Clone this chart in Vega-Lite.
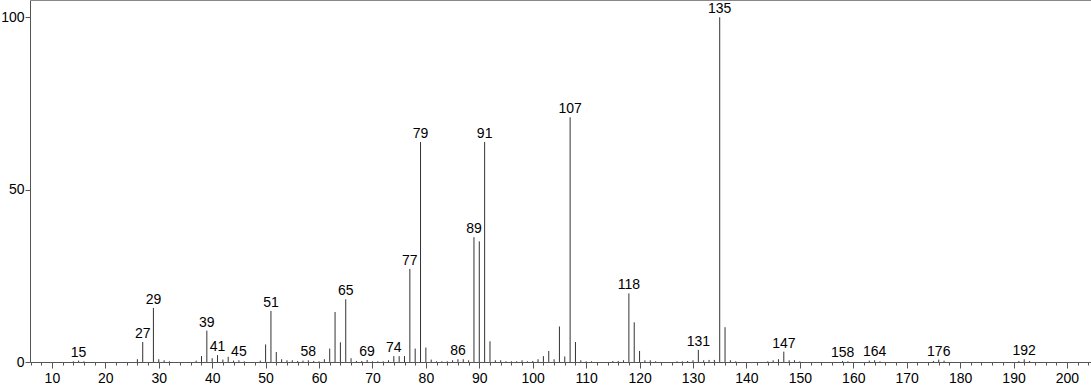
{
  "$schema": "https://vega.github.io/schema/vega-lite/v6.json",
  "width": 1061,
  "height": 362,
  "autosize": {"type": "none"},
  "padding": {"left": 30, "top": 0, "right": 0, "bottom": 25},
  "config": {"view": {"stroke": null}, "font": "Liberation Sans"},
  "data": {"values": [
    {"mz":14,"i":0.2,"lab":0},{"mz":15,"i":0.4,"lab":1},{"mz":16,"i":0.2,"lab":0},
    {"mz":26,"i":0.8,"lab":0},{"mz":27,"i":5.8,"lab":1},{"mz":29,"i":15.7,"lab":1},
    {"mz":30,"i":0.8,"lab":0},{"mz":31,"i":0.5,"lab":0},{"mz":32,"i":0.2,"lab":0},
    {"mz":37,"i":0.4,"lab":0},{"mz":38,"i":1.7,"lab":0},{"mz":39,"i":9.1,"lab":1},
    {"mz":40,"i":1.1,"lab":0},{"mz":41,"i":2.0,"lab":1},{"mz":42,"i":0.7,"lab":0},
    {"mz":43,"i":1.5,"lab":0},{"mz":44,"i":0.4,"lab":0},{"mz":45,"i":0.5,"lab":1},
    {"mz":46,"i":0.2,"lab":0},{"mz":49,"i":0.4,"lab":0},{"mz":50,"i":5.1,"lab":0},
    {"mz":51,"i":14.8,"lab":1},{"mz":52,"i":2.9,"lab":0},{"mz":53,"i":0.8,"lab":0},
    {"mz":54,"i":0.5,"lab":0},{"mz":55,"i":0.5,"lab":0},{"mz":56,"i":0.3,"lab":0},
    {"mz":57,"i":0.4,"lab":0},{"mz":58,"i":0.5,"lab":1},{"mz":59,"i":0.3,"lab":0},
    {"mz":60,"i":0.2,"lab":0},{"mz":61,"i":0.8,"lab":0},{"mz":62,"i":3.9,"lab":0},
    {"mz":63,"i":14.5,"lab":0},{"mz":64,"i":5.7,"lab":0},{"mz":65,"i":18.2,"lab":1},
    {"mz":66,"i":1.1,"lab":0},{"mz":67,"i":0.3,"lab":0},{"mz":68,"i":0.3,"lab":0},
    {"mz":69,"i":0.6,"lab":1},{"mz":70,"i":0.2,"lab":0},{"mz":71,"i":0.2,"lab":0},
    {"mz":72,"i":0.2,"lab":0},{"mz":73,"i":0.5,"lab":0},{"mz":74,"i":1.7,"lab":1},
    {"mz":75,"i":1.7,"lab":0},{"mz":76,"i":1.7,"lab":0},{"mz":77,"i":27,"lab":1},
    {"mz":78,"i":3.9,"lab":0},{"mz":79,"i":63.8,"lab":1},{"mz":80,"i":4.2,"lab":0},
    {"mz":81,"i":0.7,"lab":0},{"mz":82,"i":0.2,"lab":0},{"mz":83,"i":0.2,"lab":0},
    {"mz":84,"i":0.2,"lab":0},{"mz":85,"i":0.5,"lab":0},{"mz":86,"i":0.8,"lab":1},
    {"mz":87,"i":0.8,"lab":0},{"mz":88,"i":0.5,"lab":0},{"mz":89,"i":36.2,"lab":1},
    {"mz":90,"i":35,"lab":0},{"mz":91,"i":63.8,"lab":1},{"mz":92,"i":6.0,"lab":0},
    {"mz":93,"i":0.5,"lab":0},{"mz":94,"i":0.5,"lab":0},{"mz":95,"i":0.2,"lab":0},
    {"mz":96,"i":0.2,"lab":0},{"mz":97,"i":0.2,"lab":0},{"mz":98,"i":0.5,"lab":0},
    {"mz":99,"i":0.2,"lab":0},{"mz":100,"i":0.3,"lab":0},{"mz":101,"i":0.8,"lab":0},
    {"mz":102,"i":1.7,"lab":0},{"mz":103,"i":3.2,"lab":0},{"mz":104,"i":0.8,"lab":0},
    {"mz":105,"i":10.3,"lab":0},{"mz":106,"i":1.6,"lab":0},{"mz":107,"i":71,"lab":1},
    {"mz":108,"i":5.8,"lab":0},{"mz":109,"i":0.5,"lab":0},{"mz":110,"i":0.2,"lab":0},
    {"mz":111,"i":0.2,"lab":0},{"mz":115,"i":0.3,"lab":0},{"mz":116,"i":0.3,"lab":0},
    {"mz":117,"i":0.5,"lab":0},{"mz":118,"i":19.9,"lab":1},{"mz":119,"i":11.5,"lab":0},
    {"mz":120,"i":3.2,"lab":0},{"mz":121,"i":0.5,"lab":0},{"mz":122,"i":0.5,"lab":0},
    {"mz":123,"i":0.2,"lab":0},{"mz":127,"i":0.2,"lab":0},{"mz":128,"i":0.2,"lab":0},
    {"mz":129,"i":0.3,"lab":0},{"mz":130,"i":0.5,"lab":0},{"mz":131,"i":3.5,"lab":1},
    {"mz":132,"i":0.5,"lab":0},{"mz":133,"i":0.6,"lab":0},{"mz":134,"i":0.6,"lab":0},
    {"mz":135,"i":100,"lab":1},{"mz":136,"i":10.1,"lab":0},{"mz":137,"i":0.5,"lab":0},
    {"mz":138,"i":0.2,"lab":0},{"mz":144,"i":0.2,"lab":0},{"mz":145,"i":0.5,"lab":0},
    {"mz":146,"i":0.8,"lab":0},{"mz":147,"i":3.0,"lab":1},{"mz":148,"i":0.5,"lab":0},
    {"mz":149,"i":0.5,"lab":0},{"mz":150,"i":0.2,"lab":0},{"mz":158,"i":0.3,"lab":1},
    {"mz":159,"i":0.2,"lab":0},{"mz":163,"i":0.4,"lab":0},{"mz":164,"i":0.5,"lab":1},
    {"mz":165,"i":0.2,"lab":0},{"mz":175,"i":0.3,"lab":0},{"mz":176,"i":0.7,"lab":1},
    {"mz":177,"i":0.4,"lab":0},{"mz":191,"i":0.3,"lab":0},{"mz":192,"i":0.8,"lab":1},
    {"mz":193,"i":0.3,"lab":0}
  ]},
  "layer": [
    {
      "mark": {"type": "rule", "color": "#333333", "strokeWidth": 1},
      "encoding": {
        "x": {"field": "mz", "type": "quantitative",
          "scale": {"domain": [5.9, 204.5], "nice": false, "zero": false},
          "axis": {"orient": "bottom", "values": [10,20,30,40,50,60,70,80,90,100,110,120,130,140,150,160,170,180,190,200],
            "tickSize": 6, "labelFontSize": 14, "labelPadding": 3, "labelColor": "#000000",
            "domainColor": "#555555", "tickColor": "#555555", "grid": false, "title": null, "labelFlush": false}},
        "y": {"field": "i", "type": "quantitative",
          "scale": {"domain": [0, 105], "nice": false},
          "axis": {"values": [0, 50, 100], "tickSize": 5, "labelFontSize": 14, "labelPadding": 1, "labelColor": "#000000",
            "domainColor": "#555555", "tickColor": "#555555", "grid": false, "title": null}},
        "y2": {"datum": 0}
      }
    },
    {
      "mark": {"type": "rule", "opacity": 0},
      "encoding": {
        "x": {"field": "mz", "type": "quantitative",
          "scale": {"domain": [5.9, 204.5], "nice": false, "zero": false},
          "axis": {"orient": "bottom", "values": [6,8,12,14,16,18,22,24,26,28,32,34,36,38,42,44,46,48,52,54,56,58,62,64,66,68,72,74,76,78,82,84,86,88,92,94,96,98,102,104,106,108,112,114,116,118,122,124,126,128,132,134,136,138,142,144,146,148,152,154,156,158,162,164,166,168,172,174,176,178,182,184,186,188,192,194,196,198,202,204],
            "tickSize": 3, "labels": false, "domain": false, "tickColor": "#555555", "grid": false, "title": null}},
        "y": {"field": "i", "type": "quantitative"},
        "y2": {"datum": 0}
      }
    },
    {
      "transform": [{"filter": "datum.lab == 1"}],
      "mark": {"type": "text", "baseline": "bottom", "dy": -1, "fontSize": 14, "color": "#000000"},
      "encoding": {
        "x": {"field": "mz", "type": "quantitative"},
        "y": {"field": "i", "type": "quantitative"},
        "text": {"field": "mz", "type": "quantitative"}
      }
    }
  ],
  "resolve": {"axis": {"x": "independent"}}
}
